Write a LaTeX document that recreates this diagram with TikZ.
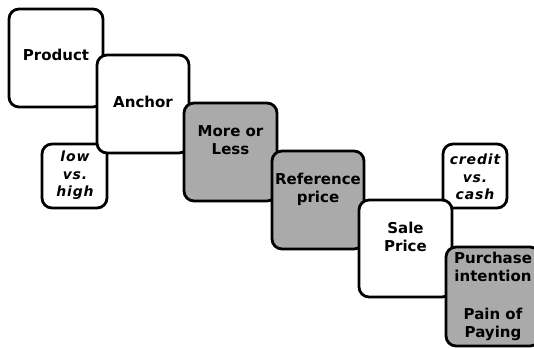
\documentclass[tikz,border=0pt]{standalone}
\usepackage{fontspec}
\setmainfont{DejaVu Sans}
\newfontfamily\spacedfont[LetterSpace=6]{DejaVu Sans}
\definecolor{boxgrey}{RGB}{170,170,170}
\tikzset{
  box/.style={draw=black, line width=2.8pt, rounded corners=10pt, fill=white, inner sep=0pt},
  greybox/.style={box, fill=boxgrey},
  lbl/.style={font=\fontsize{15}{18}\selectfont\bfseries, align=center, inner sep=0pt},
  ilbl/.style={font=\fontsize{14}{17.5}\selectfont\spacedfont\bfseries\itshape, align=center, inner sep=0pt}
}
\begin{document}
\begin{tikzpicture}[x=1pt,y=-1pt]
\clip (0,0) rectangle (534,348);
\useasboundingbox (0,0) rectangle (534,348);
% Product
\node[box, minimum width=94pt, minimum height=98pt] (product) at (56,58) {};
\node[lbl] (productT) at (56,55) {Product};
% low vs high
\node[box, minimum width=65pt, minimum height=64pt] (low) at (74.5,176) {};
\node[ilbl] (lowT) at (75,175.5) {low\\vs.\\high};
% Anchor
\node[box, minimum width=92pt, minimum height=98pt] (anchor) at (143,104) {};
\node[lbl] (anchorT) at (143,102) {Anchor};
% More or Less
\node[greybox, minimum width=93pt, minimum height=98pt] (more) at (230.5,152) {};
\node[lbl] (moreT) at (230.5,140.5) {More or\\Less};
% Reference price
\node[greybox, minimum width=92pt, minimum height=98pt] (ref) at (318,200) {};
\node[lbl] (refT) at (318,189) {Reference\\price};
% credit vs cash
\node[box, minimum width=64pt, minimum height=64pt] (credit) at (475,176) {};
\node[ilbl] (creditT) at (475,177) {credit\\vs.\\cash};
% Sale Price
\node[box, minimum width=93pt, minimum height=97pt] (sale) at (405.5,248.5) {};
\node[lbl] (saleT) at (405.5,237) {Sale\\Price};
% Purchase intention
\node[greybox, minimum width=94pt, minimum height=99pt] (purchase) at (493,296.5) {};
\node[lbl] (purchaseT) at (493,266.5) {Purchase\\intention};
\node[lbl] (painT) at (493,324.5) {Pain of\\Paying};
\end{tikzpicture}
\end{document}
